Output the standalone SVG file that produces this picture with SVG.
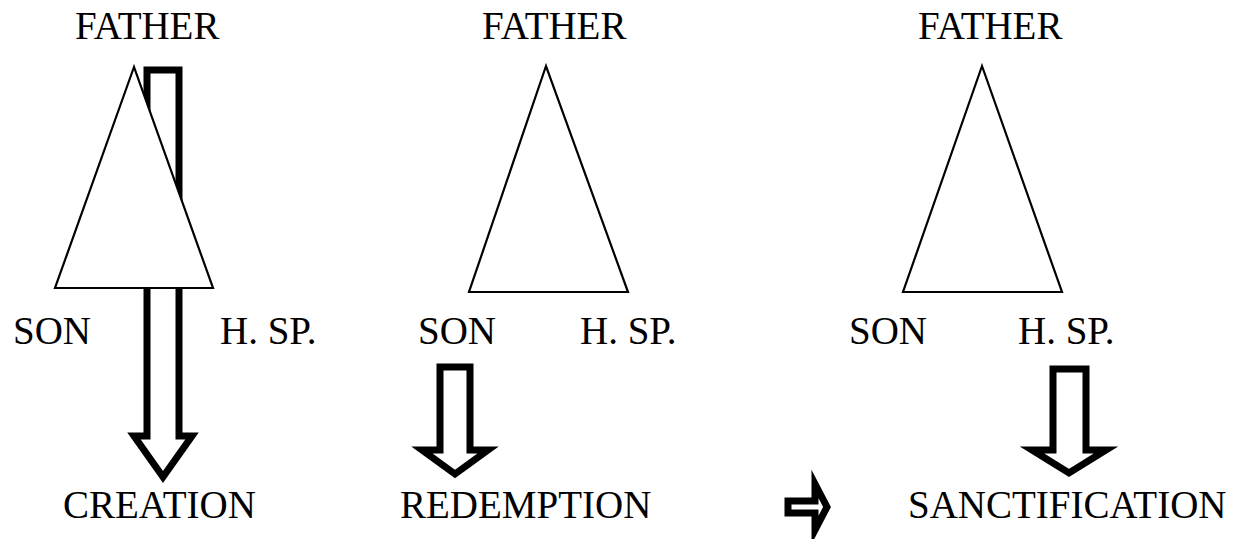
<svg xmlns="http://www.w3.org/2000/svg" width="1241" height="539" viewBox="0 0 1241 539">
<style>
.t{font-family:"Liberation Serif","Times New Roman",serif;font-size:39px;fill:#000}
.tri{fill:#fff;stroke:#000;stroke-width:2.2;stroke-linejoin:miter}
.arr{fill:#fff;stroke:#000;stroke-width:7;stroke-linejoin:miter;stroke-miterlimit:10}
</style>
<rect width="1241" height="539" fill="#fff"/>
<g id="connectors">
<polygon id="arrow-creation" class="arr" points="147,70 179,70 179,436 192,436 163,477 134,436 147,436"/>
<polygon id="arrow-redemption" class="arr" points="440,367 470,367 470,450 488,450 455,474 422,450 440,450"/>
<polygon id="arrow-sanctification" class="arr" points="1053,369 1086,369 1086,450 1106,450 1069,473 1032,450 1053,450"/>
<polygon id="arrow-right" class="arr" stroke-width="6.5" points="788,501 815,501 815,484 827,507 815,530 815,513 788,513"/>
</g>
<g id="trinity-1">
<polygon class="tri" points="134,67 55,288 213,288"/>
<text class="t" x="75" y="39">FATHER</text>
<text class="t" x="13" y="344">SON</text>
<text class="t" x="220" y="344">H. SP.</text>
</g>
<g id="trinity-2">
<polygon class="tri" points="546,66 469,292 628,292"/>
<text class="t" x="482" y="39">FATHER</text>
<text class="t" x="418" y="344">SON</text>
<text class="t" x="580" y="344">H. SP.</text>
</g>
<g id="trinity-3">
<polygon class="tri" points="982,66 903,292 1062,292"/>
<text class="t" x="918" y="39">FATHER</text>
<text class="t" x="849" y="344">SON</text>
<text class="t" x="1018" y="344">H. SP.</text>
</g>
<g id="creation"><text class="t" x="63" y="518">CREATION</text></g>
<g id="redemption"><text class="t" x="400" y="518">REDEMPTION</text></g>
<g id="sanctification"><text class="t" x="908" y="518">SANCTIFICATION</text></g>
</svg>
